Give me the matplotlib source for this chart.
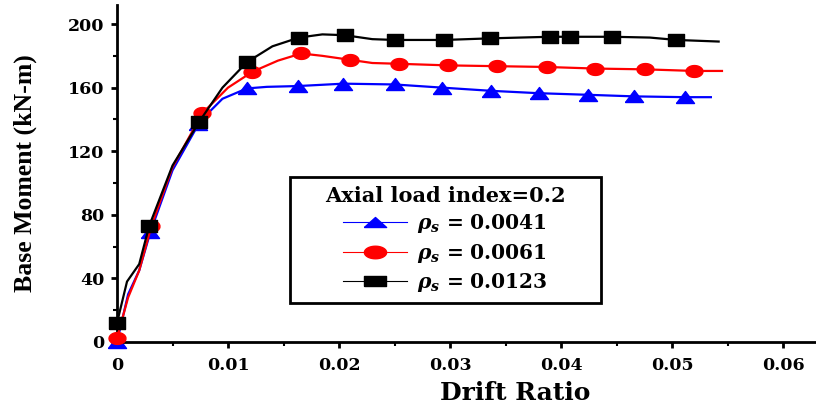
import numpy as np
import matplotlib
matplotlib.use("Agg")
import matplotlib.pyplot as plt
from matplotlib.lines import Line2D
from matplotlib.patches import Rectangle
from matplotlib.ticker import MultipleLocator, FixedFormatter, FixedLocator

plt.rcParams["mathtext.fontset"] = "custom"
plt.rcParams["mathtext.it"] = "DejaVu Serif:italic:bold"
plt.rcParams["mathtext.rm"] = "DejaVu Serif:bold"

# ── Moment–drift curves (traced points along each curve) ──────────────────────
blue_x = [0, 0.001, 0.002, 0.003, 0.005, 0.0075, 0.0095, 0.0117, 0.0135, 0.0163,
          0.0204, 0.025, 0.0293, 0.0337, 0.038, 0.0424, 0.0466, 0.0512, 0.0535]
blue_y = [0, 30, 45, 69, 108, 139, 153, 159.5, 160.5, 161,
          162.5, 162, 160, 158, 156.5, 155.5, 154.5, 154, 154]

red_x = [0, 0.001, 0.002, 0.0031, 0.005, 0.0077, 0.01, 0.0122, 0.0145, 0.0166,
         0.0185, 0.021, 0.023, 0.0254, 0.0298, 0.0342, 0.0387, 0.0431, 0.0476,
         0.052, 0.0545]
red_y = [2.5, 28, 45, 73, 110, 144, 160, 170, 177, 181.5,
         180, 177.5, 175.5, 175, 174, 173.5, 173, 172, 171.5,
         170.5, 170.5]

black_x = [0, 0.0009, 0.002, 0.0029, 0.005, 0.0074, 0.0095, 0.0117, 0.014, 0.0164,
           0.0185, 0.0205, 0.023, 0.025, 0.0295, 0.0336, 0.039, 0.0408, 0.0446,
           0.048, 0.0504, 0.0542]
black_y = [12, 38, 49, 73, 111, 138.5, 160, 176, 186, 191.5,
           193.5, 193, 190.5, 190, 190, 191, 192, 192, 192,
           191.5, 190, 189]

# ── Marker positions ──────────────────────────────────────────────────────────
blue_mx = [0, 0.003, 0.0073, 0.0117, 0.0163, 0.0204, 0.025, 0.0293, 0.0337,
           0.038, 0.0424, 0.0466, 0.0512]
blue_my = [0, 69, 137, 159.5, 161, 162.5, 162, 160, 158,
           156.5, 155.5, 154.5, 154]

red_mx = [0, 0.0031, 0.0077, 0.0122, 0.0166, 0.021, 0.0254, 0.0298, 0.0342,
          0.0387, 0.0431, 0.0476, 0.052]
red_my = [2.5, 73, 144, 170, 181.5, 177.5, 175, 174, 173.5,
          173, 172, 171.5, 170.5]

black_mx = [0, 0.0029, 0.0074, 0.0117, 0.0164, 0.0205, 0.025, 0.0295, 0.0336,
            0.039, 0.0408, 0.0446, 0.0504]
black_my = [12, 73, 138.5, 176, 191.5, 193, 190, 190, 191,
            192, 192, 192, 190]

labels = [r"$\rho_s$ = 0.0041", r"$\rho_s$ = 0.0061", r"$\rho_s$ = 0.0123"]
x_ticks = [0, 0.01, 0.02, 0.03, 0.04, 0.05, 0.06]
x_ticklabels = ["0", "0.01", "0.02", "0.03", "0.04", "0.05", "0.06"]


# wide, flattened marker shapes
def tri(h):
    return [(-1, -h / 2), (1, -h / 2), (0, h / 2), (-1, -h / 2)]

def rect(h):
    return [(-1, -h / 2), (1, -h / 2), (1, h / 2), (-1, h / 2), (-1, -h / 2)]

def oval(h):
    t = np.linspace(0, 2 * np.pi, 41)
    return list(zip(np.cos(t), h / 2 * np.sin(t)))


fig = plt.figure(figsize=(8.16, 4.08), dpi=100)
ax = fig.add_axes([0.1434, 0.1618, 0.857, 0.826])

series = [
    (blue_x, blue_y, blue_mx, blue_my, "#0000ff", tri(1.33), 13, tri(0.9)),
    (red_x, red_y, red_mx, red_my, "#ff0000", oval(1.4), 12.2, oval(1.13)),
    (black_x, black_y, black_mx, black_my, "#000000", rect(1.38), 11.5, rect(0.9)),
]
handles = []
for i, (cx, cy, mx, my, col, mk, ms, lmk) in enumerate(series):
    ax.plot(cx, cy, color=col, lw=1.6, zorder=2 + i, clip_on=False)
    ax.plot(mx, my, ls="none", marker=mk, ms=ms, color=col, zorder=2 + i, clip_on=False)
    handles.append(Line2D([], [], color=col, lw=0.8, marker=lmk, ms=16))

ax.set_xlim(0, 0.063)
ax.set_ylim(0, 212)
ax.xaxis.set_major_locator(FixedLocator(x_ticks))
ax.xaxis.set_major_formatter(FixedFormatter(x_ticklabels))
ax.xaxis.set_minor_locator(MultipleLocator(0.005))
ax.yaxis.set_major_locator(MultipleLocator(40))
ax.yaxis.set_minor_locator(MultipleLocator(20))

for sp in ["top", "right"]:
    ax.spines[sp].set_visible(False)
for sp in ["left", "bottom"]:
    ax.spines[sp].set_linewidth(2)
ax.tick_params(which="major", direction="out", length=4, width=2)
ax.tick_params(which="minor", direction="out", length=3, width=1.5)
ax.tick_params(axis="x", which="major", pad=7)
ax.tick_params(axis="y", which="major", pad=5)
for t in ax.get_xticklabels() + ax.get_yticklabels():
    t.set_fontfamily("DejaVu Serif")
    t.set_fontweight("bold")
    t.set_fontsize(12.5)

ax.set_xlabel("Drift Ratio", fontfamily="DejaVu Serif", fontweight="bold", fontsize=18)
ax.xaxis.set_label_coords(0.569, -0.115)
ax.set_ylabel("Base Moment (kN-m)", fontfamily="Liberation Serif", fontweight="bold",
              fontsize=18.5, labelpad=22)

# legend frame drawn as its own box so the entries sit centred under the title
ax.add_patch(Rectangle((0.2475, 0.116), 0.444, 0.374, transform=ax.transAxes,
                       facecolor="white", edgecolor="black", lw=2, zorder=6))
leg = ax.legend(handles, labels, loc="center",
                bbox_to_anchor=(0.2475 + 0.222, 0.116 + 0.187),
                title="Axial load index=0.2", frameon=False,
                handlelength=3.2, handletextpad=0.5,
                labelspacing=0.32, borderpad=0.3,
                prop={"family": "DejaVu Serif", "weight": "bold", "size": 14.5})
leg.set_zorder(7)
leg.get_title().set_fontfamily("DejaVu Serif")
leg.get_title().set_fontweight("bold")
leg.get_title().set_fontsize(15)

fig.savefig("out.png", dpi=100)
